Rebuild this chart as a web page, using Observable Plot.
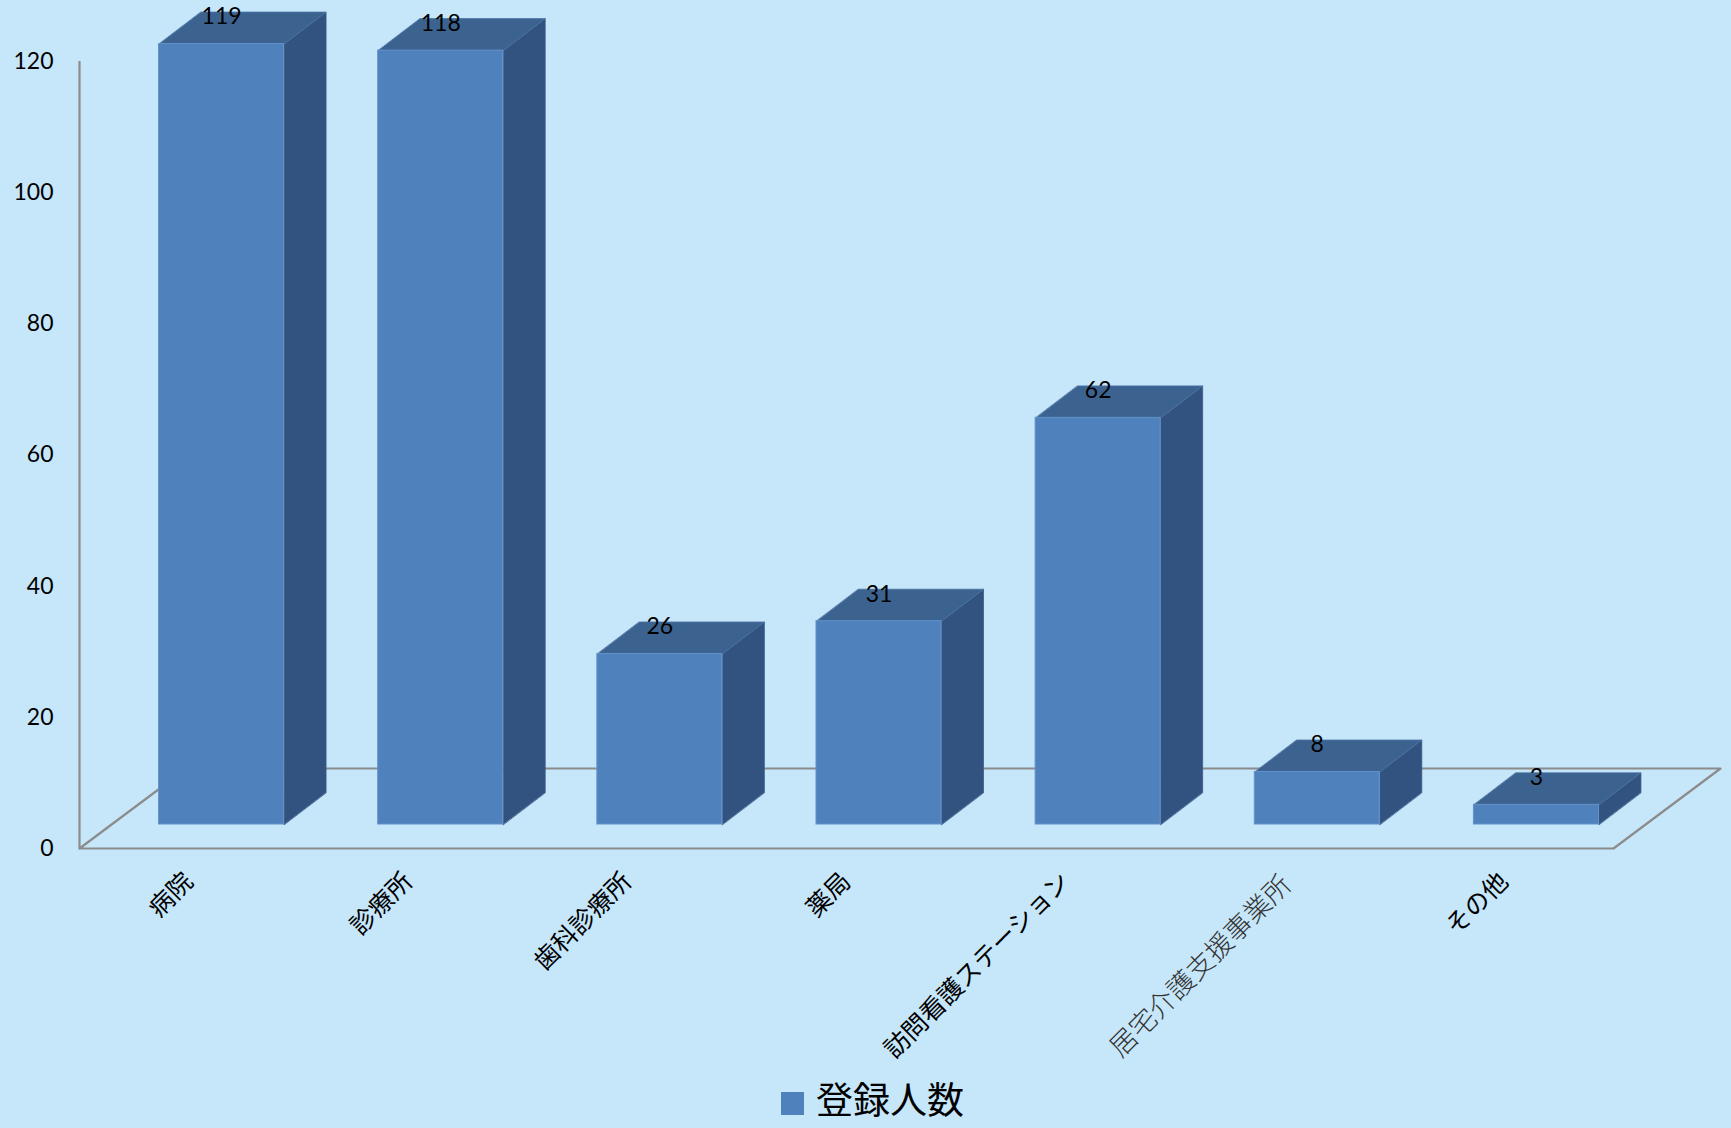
<!DOCTYPE html>
<html>
<head>
<meta charset="utf-8">
<script src="https://cdn.jsdelivr.net/npm/d3@7"></script>
<script src="https://cdn.jsdelivr.net/npm/@observablehq/plot@0.6"></script>
<style>
  html, body { margin: 0; padding: 0; background: #c6e6fa; overflow: hidden; }
  #chart svg { display: block; }
  #legend { height: 48px; display: flex; align-items: center; justify-content: center; padding-left: 14px;
            font-family: "Noto Sans CJK JP", sans-serif; font-size: 37px; line-height: 1; color: #000; }
  #legend .sw { width: 23px; height: 23px; background: #4f81bd; margin-right: 12px; margin-top: 10px; }
</style>
</head>
<body>
<div id="chart"></div>
<div id="legend"><span class="sw"></span><span id="legend-text"></span></div>
<script>
// ---- data ----
const categories = ["病院", "診療所", "歯科診療所", "薬局", "訪問看護ステーション", "居宅介護支援事業所", "その他"];
const values = [119, 118, 26, 31, 62, 8, 3];
const yTicks = [0, 20, 40, 60, 80, 100, 120];
const seriesName = "登録人数";
document.getElementById("legend-text").textContent = seriesName;

// ---- layout / style constants ----
const W = 1731, H = 1074;
const xRange = [79, 1613], yRange = [848, 61];
const xDomain = [-0.5, categories.length - 0.5], yDomain = [0, 120];
const pxPerX = (xRange[1] - xRange[0]) / (xDomain[1] - xDomain[0]);
const pxPerY = (yRange[0] - yRange[1]) / (yDomain[1] - yDomain[0]);
// oblique depth (pixels)
const floorDepth = {dx: 107, dy: 80};
const barDepth = {dx: 42, dy: 32};
const barWidthPx = 125;
const midShift = {dx: (floorDepth.dx - barDepth.dx) / 2, dy: (floorDepth.dy - barDepth.dy) / 2};

const FX = floorDepth.dx / pxPerX, FY = floorDepth.dy / pxPerY;
const BX = barDepth.dx / pxPerX, BY = barDepth.dy / pxPerY;
const OX = midShift.dx / pxPerX, OY = midShift.dy / pxPerY;
const HW = barWidthPx / pxPerX / 2;

const data = categories.map((c, i) => ({i, c, v: values[i]}));

// floor outline (closed)
const floor = [
  {x: xDomain[0], y: 0}, {x: xDomain[1], y: 0},
  {x: xDomain[1] + FX, y: FY}, {x: xDomain[0] + FX, y: FY},
  {x: xDomain[0], y: 0}
];

// faces
const topFaces = data.flatMap(d => {
  const x1 = d.i - HW + OX, x2 = d.i + HW + OX, y = d.v + OY;
  return [
    {k: d.i, x: x1, y}, {k: d.i, x: x2, y},
    {k: d.i, x: x2 + BX, y: y + BY}, {k: d.i, x: x1 + BX, y: y + BY}
  ];
});
const sideFaces = data.flatMap(d => {
  const x2 = d.i + HW + OX;
  return [
    {k: d.i, x: x2, y: OY}, {k: d.i, x: x2, y: d.v + OY},
    {k: d.i, x: x2 + BX, y: d.v + OY + BY}, {k: d.i, x: x2 + BX, y: OY + BY}
  ];
});

const gray = "#8c8c8c";
const front = "#4f81bd", topC = "#3c6390", sideC = "#325380";

const chart = Plot.plot({
  width: W, height: H,
  marginLeft: xRange[0], marginRight: W - xRange[1], marginTop: yRange[1], marginBottom: H - yRange[0],
  style: {background: "#c6e6fa", fontFamily: "Lato, 'Noto Sans', sans-serif", color: "#000"},
  x: {type: "linear", domain: xDomain, range: xRange, axis: null},
  y: {domain: yDomain, range: yRange, axis: null},
  marks: [
    Plot.axisY({ticks: yTicks, tickSize: 0, tickPadding: 26, fontSize: 23, label: null, tickFormat: d => String(d), fill: "#000"}),
    Plot.line(floor, {x: "x", y: "y", stroke: gray, strokeWidth: 2.2}),
    Plot.ruleX([xDomain[0]], {y1: yDomain[0], y2: yDomain[1], stroke: gray, strokeWidth: 2.2}),
    Plot.line(sideFaces, {x: "x", y: "y", z: "k", fill: sideC, stroke: "#3a5d8a", strokeWidth: 0.8, curve: "linear-closed"}),
    Plot.line(topFaces, {x: "x", y: "y", z: "k", fill: topC, stroke: "#4a72a3", strokeWidth: 0.8, curve: "linear-closed"}),
    Plot.rect(data, {x1: d => d.i - HW + OX, x2: d => d.i + HW + OX, y1: OY, y2: d => d.v + OY,
                     fill: front, stroke: "#6391c9", strokeWidth: 1}),
    Plot.text(data, {x: d => d.i + OX, y: d => d.v + OY, text: d => String(d.v), dy: -27,
                     fontSize: 23, fill: "#000"}),
    Plot.text(data.filter(d => d.i !== 5), {x: "i", y: 0, text: "c", rotate: -45, textAnchor: "end", dy: 29,
                     fontSize: 25, fill: "#000", fontFamily: "'Noto Sans CJK JP', sans-serif"}),
    Plot.text(data.filter(d => d.i === 5), {x: "i", y: 0, text: "c", rotate: -45, textAnchor: "end", dy: 32, dx: 2,
                     fontSize: 27, fill: "#333", fontWeight: 300, fontFamily: "'Noto Sans CJK JP', sans-serif"})
  ]
});
document.getElementById("chart").appendChild(chart);
</script>
</body>
</html>
